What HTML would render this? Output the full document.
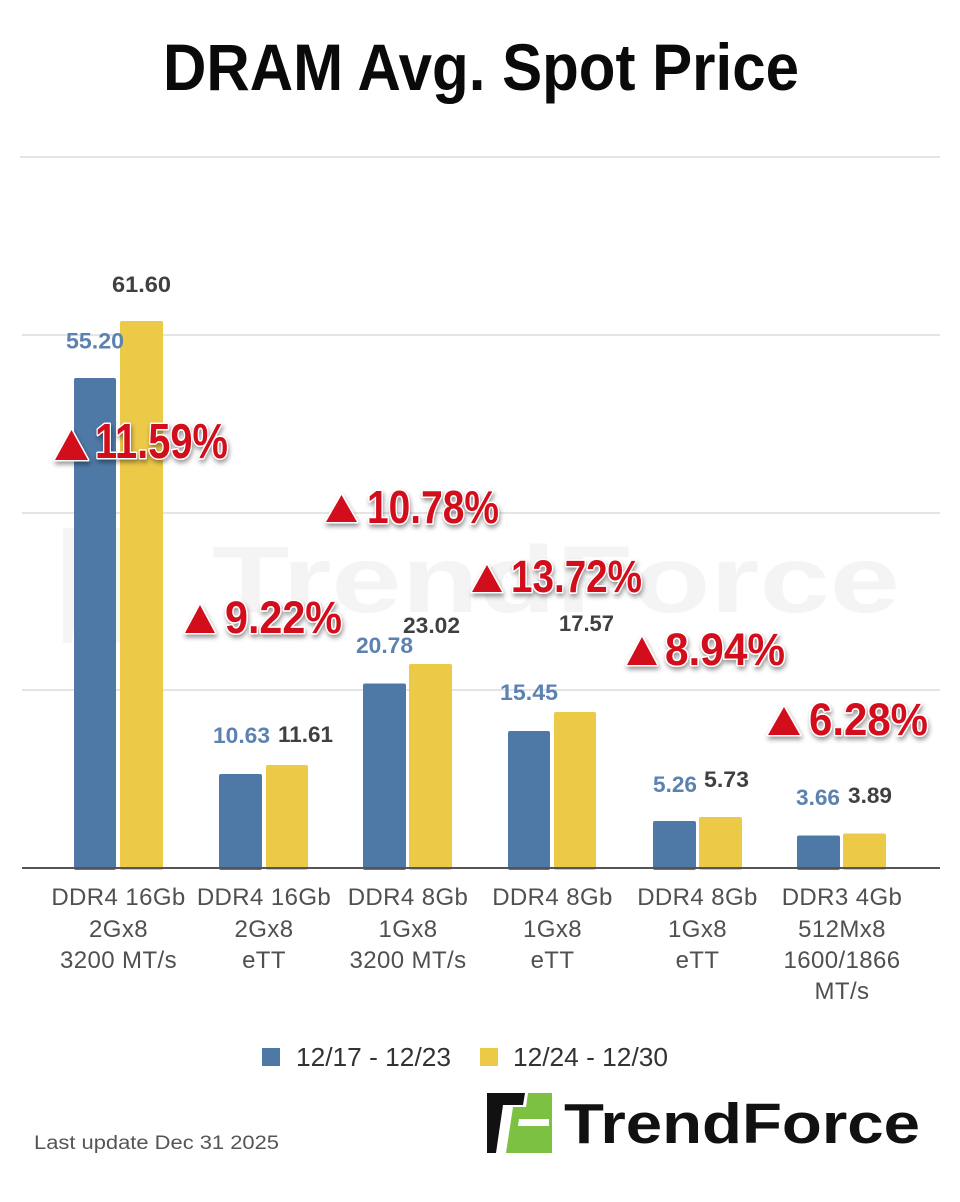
<!DOCTYPE html>
<html>
<head>
<meta charset="utf-8">
<style>
  html, body { margin:0; padding:0; background:#ffffff; }
  body { width:960px; height:1202px; overflow:hidden; }
  svg { display:block; }
  text { font-family: "Liberation Sans", Arial, sans-serif; }
</style>
</head>
<body>
<svg width="960" height="1202" viewBox="0 0 960 1202" xmlns="http://www.w3.org/2000/svg">
  <defs>
    <filter id="sh" x="-20%" y="-30%" width="140%" height="170%">
      <feDropShadow dx="1" dy="3" stdDeviation="2.5" flood-color="#000" flood-opacity="0.4"/>
    </filter>
  </defs>
  <rect x="0" y="0" width="960" height="1202" fill="#ffffff"/>

  <!-- Title -->
  <text x="163" y="90" font-size="66" font-weight="bold" fill="#0a0a0a" textLength="636" lengthAdjust="spacingAndGlyphs">DRAM Avg. Spot Price</text>

  <!-- Watermark -->
  <g>
    <polygon points="63,528 105,528 100,548 82,548 72,643 63,643" fill="#f5f5f5"/>
    <polygon points="110,528 150,528 150,643 95,643 104,560 115,560" fill="#f4f8ef"/>
    <text x="212" y="612" font-size="95" font-weight="bold" fill="#f4f4f4" textLength="688" lengthAdjust="spacingAndGlyphs">TrendForce</text>
  </g>

  <!-- Gridlines -->
  <line x1="20" y1="157" x2="940" y2="157" stroke="#dcdcdc" stroke-width="1.5"/>
  <line x1="22" y1="335" x2="940" y2="335" stroke="#dcdcdc" stroke-width="1.5"/>
  <line x1="22" y1="513" x2="940" y2="513" stroke="#dcdcdc" stroke-width="1.5"/>
  <line x1="22" y1="690" x2="940" y2="690" stroke="#dcdcdc" stroke-width="1.5"/>

  <!-- Bars -->
  <g fill="#4e79a7">
    <rect x="74" y="378" width="42" height="492" rx="2"/>
    <rect x="219" y="774" width="43" height="96" rx="2"/>
    <rect x="363" y="683.5" width="43" height="186.5" rx="2"/>
    <rect x="508" y="731" width="42" height="139" rx="2"/>
    <rect x="653" y="821" width="43" height="49" rx="2"/>
    <rect x="797" y="835.5" width="43" height="34.5" rx="2"/>
  </g>
  <g fill="#edc948">
    <rect x="120" y="321" width="43" height="549" rx="2"/>
    <rect x="266" y="765" width="42" height="105" rx="2"/>
    <rect x="409" y="664" width="43" height="206" rx="2"/>
    <rect x="554" y="712" width="42" height="158" rx="2"/>
    <rect x="699" y="817" width="43" height="53" rx="2"/>
    <rect x="843" y="833.5" width="43" height="36.5" rx="2"/>
  </g>

  <!-- Baseline -->
  <line x1="22" y1="868" x2="940" y2="868" stroke="#555555" stroke-width="2"/>

  <!-- Value labels -->
  <g font-size="22" font-weight="bold">
    <text x="66" y="348.5" fill="#5b82b0" textLength="58" lengthAdjust="spacingAndGlyphs">55.20</text>
    <text x="112" y="292" fill="#404040" textLength="59" lengthAdjust="spacingAndGlyphs">61.60</text>
    <text x="213" y="743" fill="#5b82b0" textLength="57" lengthAdjust="spacingAndGlyphs">10.63</text>
    <text x="278" y="742" fill="#404040" textLength="55" lengthAdjust="spacingAndGlyphs">11.61</text>
    <text x="356" y="653" fill="#5b82b0" textLength="57" lengthAdjust="spacingAndGlyphs">20.78</text>
    <text x="403" y="633" fill="#404040" textLength="57" lengthAdjust="spacingAndGlyphs">23.02</text>
    <text x="500" y="700" fill="#5b82b0" textLength="58" lengthAdjust="spacingAndGlyphs">15.45</text>
    <text x="559" y="631" fill="#404040" textLength="55" lengthAdjust="spacingAndGlyphs">17.57</text>
    <text x="653" y="792" fill="#5b82b0" textLength="44" lengthAdjust="spacingAndGlyphs">5.26</text>
    <text x="704" y="787" fill="#404040" textLength="45" lengthAdjust="spacingAndGlyphs">5.73</text>
    <text x="796" y="805" fill="#5b82b0" textLength="44" lengthAdjust="spacingAndGlyphs">3.66</text>
    <text x="848" y="803" fill="#404040" textLength="44" lengthAdjust="spacingAndGlyphs">3.89</text>
  </g>

  <!-- Percentage labels -->
  <g filter="url(#sh)" fill="#d20f1c" stroke="#ffffff" stroke-width="3" stroke-linejoin="round" paint-order="stroke" font-weight="bold">
    <polygon points="55,460 88,460 71.5,430"/>
    <text x="95" y="458" font-size="49" textLength="133" lengthAdjust="spacingAndGlyphs">11.59%</text>

    <polygon points="185,633 215,633 200,605"/>
    <text x="225" y="633" font-size="45" textLength="117" lengthAdjust="spacingAndGlyphs">9.22%</text>

    <polygon points="326,522 357,522 341.5,495"/>
    <text x="367" y="523" font-size="46" textLength="132" lengthAdjust="spacingAndGlyphs">10.78%</text>

    <polygon points="472,592 502,592 487,565"/>
    <text x="511" y="592" font-size="45" textLength="131" lengthAdjust="spacingAndGlyphs">13.72%</text>

    <polygon points="627,665 657,665 642,637"/>
    <text x="665" y="665" font-size="45" textLength="120" lengthAdjust="spacingAndGlyphs">8.94%</text>

    <polygon points="768,735 800,735 784,707"/>
    <text x="809" y="735" font-size="45" textLength="119" lengthAdjust="spacingAndGlyphs">6.28%</text>
  </g>

  <!-- X-axis labels -->
  <g font-size="24" fill="#505050" text-anchor="middle" letter-spacing="0.4">
    <text x="118.5" y="905">DDR4 16Gb</text>
    <text x="118.5" y="937">2Gx8</text>
    <text x="118.5" y="968">3200 MT/s</text>

    <text x="264" y="905">DDR4 16Gb</text>
    <text x="264" y="937">2Gx8</text>
    <text x="264" y="968">eTT</text>

    <text x="408" y="905">DDR4 8Gb</text>
    <text x="408" y="937">1Gx8</text>
    <text x="408" y="968">3200 MT/s</text>

    <text x="552.5" y="905">DDR4 8Gb</text>
    <text x="552.5" y="937">1Gx8</text>
    <text x="552.5" y="968">eTT</text>

    <text x="697.5" y="905">DDR4 8Gb</text>
    <text x="697.5" y="937">1Gx8</text>
    <text x="697.5" y="968">eTT</text>

    <text x="842" y="905">DDR3 4Gb</text>
    <text x="842" y="937">512Mx8</text>
    <text x="842" y="968">1600/1866</text>
    <text x="842" y="999">MT/s</text>
  </g>

  <!-- Legend -->
  <rect x="262" y="1048" width="18" height="18" fill="#4e79a7"/>
  <text x="296" y="1066" font-size="26" fill="#333333" textLength="155" lengthAdjust="spacingAndGlyphs">12/17 - 12/23</text>
  <rect x="480" y="1048" width="18" height="18" fill="#edc948"/>
  <text x="513" y="1066" font-size="26" fill="#333333" textLength="155" lengthAdjust="spacingAndGlyphs">12/24 - 12/30</text>

  <!-- Footer -->
  <text x="34" y="1149" font-size="19" fill="#555555" textLength="245" lengthAdjust="spacingAndGlyphs">Last update Dec 31  2025</text>

  <!-- TrendForce logo -->
  <polygon points="487,1093 525,1093 523,1105 503,1105 496,1153 487,1153" fill="#111111"/>
  <polygon points="528,1093 552,1093 552,1153 506,1153 513,1107 526,1107" fill="#7cc142"/>
  <polygon points="519,1119 549,1119 549,1126 518,1126" fill="#ffffff"/>
  <text x="564" y="1143" font-size="57" font-weight="bold" fill="#111111" textLength="356" lengthAdjust="spacingAndGlyphs">TrendForce</text>
</svg>
</body>
</html>
